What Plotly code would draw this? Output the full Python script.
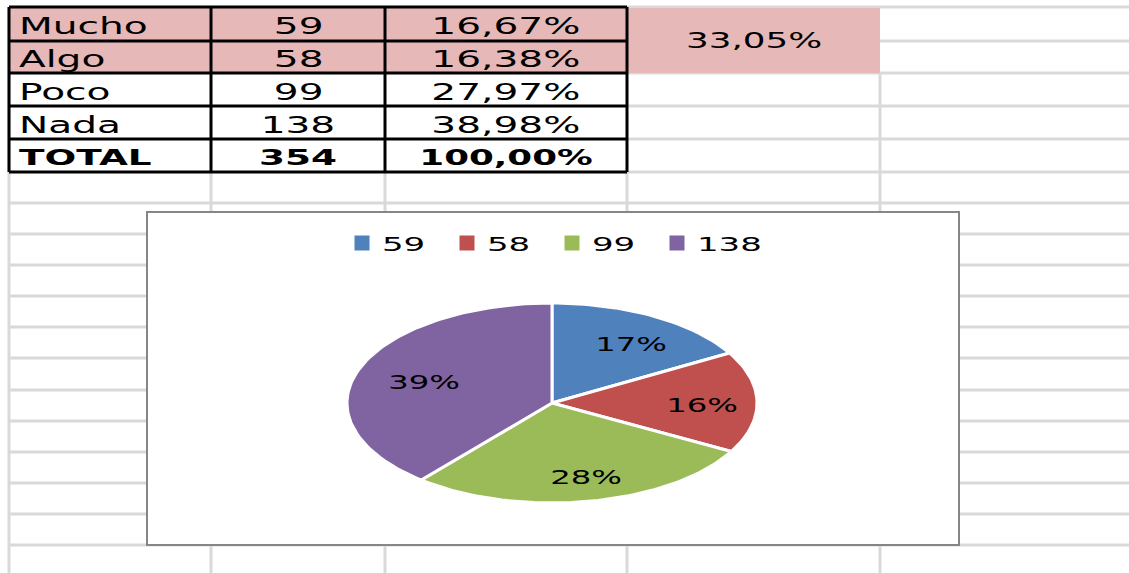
import math
import json
import plotly.graph_objects as go

# ---- data ----
categories = ["Mucho", "Algo", "Poco", "Nada"]
counts = [59, 58, 99, 138]
total_label = "TOTAL"
total_pct_label = "100,00%"
highlight_rows = 2  # Mucho + Algo summed in merged cell
slice_colors = ["#4F81BD", "#C0504D", "#9BBB59", "#8064A2"]

total = sum(counts)
def fmt_pct(v):
    return f"{v:.2f}".replace(".", ",") + "%"
pct_labels = [fmt_pct(c / total * 100) for c in counts]
combined_label = fmt_pct(sum(counts[:highlight_rows]) / total * 100)
pie_labels = [f"{round(c / total * 100)}%" for c in counts]

# ---- layout geometry (screen pixels) ----
W, H = 1129, 573
col_x = [9, 211, 385, 627, 880]
row_y = [7, 41, 73, 106, 139, 172]
grid_y_below = [203, 234, 265, 296, 327, 358, 390, 421, 452, 483, 514, 545]
chart_box = (147, 212, 959, 545)
cx, cy, rx, ry = 552, 403, 205, 100
GRID = "#D9D9D9"
PINK = "#E6B8B7"
FONT = "DejaVu Sans"
STRETCH = 1.7

fig = go.Figure()
shapes = []

def line(x0, y0, x1, y1, color, width):
    shapes.append(dict(type="line", xref="x", yref="y", x0=x0, y0=y0, x1=x1, y1=y1,
                       line=dict(color=color, width=width), layer="below"))

# spreadsheet gridlines
for y in row_y:
    line(col_x[3], y, W + 20, y, GRID, 3)
for y in grid_y_below:
    line(col_x[0], y, W + 20, y, GRID, 3)
line(col_x[0], row_y[0], col_x[0], H + 20, GRID, 3)
for x in col_x[1:4]:
    line(x, row_y[-1], x, H + 20, GRID, 3)
line(col_x[4], row_y[2], col_x[4], H + 20, GRID, 3)

# pink highlight cells
shapes.append(dict(type="rect", xref="x", yref="y", x0=col_x[0], x1=col_x[3],
                   y0=row_y[0], y1=row_y[highlight_rows], fillcolor=PINK,
                   line=dict(width=0), layer="below"))
shapes.append(dict(type="rect", xref="x", yref="y", x0=col_x[3], x1=col_x[4],
                   y0=row_y[0] + 1, y1=row_y[highlight_rows], fillcolor=PINK,
                   line=dict(width=0), layer="below"))

# table borders
for y in row_y:
    line(col_x[0], y, col_x[3], y, "#000000", 3)
for x in col_x[:4]:
    line(x, row_y[0], x, row_y[-1], "#000000", 3)

# chart box
shapes.append(dict(type="rect", xref="x", yref="y", x0=chart_box[0], y0=chart_box[1],
                   x1=chart_box[2], y1=chart_box[3], fillcolor="white",
                   line=dict(color="#868686", width=2), layer="below"))

# table text
annotations = []
def txt(x, y, s, anchor="center", bold=False, size=23):
    annotations.append(dict(x=x, y=y, xref="x", yref="y", text=f"<b>{s}</b>" if bold else s,
                            showarrow=False, xanchor=anchor, yanchor="middle",
                            font=dict(family=FONT, size=size, color="#000000")))

rows = list(zip(categories, [str(c) for c in counts], pct_labels))
rows.append((total_label, str(total), total_pct_label))
for i, (lab, cnt, pct) in enumerate(rows):
    yc = (row_y[i] + row_y[i + 1]) / 2 + 2
    bold = i == len(rows) - 1
    txt(col_x[0] + 8, yc, lab, anchor="left", bold=bold, size=22 if bold else 23)
    txt((col_x[1] + col_x[2]) / 2, yc, cnt, bold=bold, size=22 if bold else 23)
    txt((col_x[2] + col_x[3]) / 2, yc, pct, bold=bold, size=21 if bold else 23)
txt((col_x[3] + col_x[4]) / 2, (row_y[0] + row_y[highlight_rows]) / 2 + 1, combined_label, size=21)

# pie wedges (elliptical, clockwise from top)
start = 0.0
for c, col, lab in zip(counts, slice_colors, pie_labels):
    a0 = start
    a1 = start + c / total * 2 * math.pi
    n = max(8, int((a1 - a0) / (2 * math.pi) * 240))
    xs, ys = [cx], [cy]
    for k in range(n + 1):
        a = a0 + (a1 - a0) * k / n
        xs.append(cx + rx * math.sin(a))
        ys.append(cy - ry * math.cos(a))
    xs.append(cx); ys.append(cy)
    fig.add_trace(go.Scatter(x=xs, y=ys, mode="lines", fill="toself", fillcolor=col,
                             line=dict(color="white", width=3), showlegend=False,
                             hoverinfo="skip"))
    am = (a0 + a1) / 2
    annotations.append(dict(x=cx + 7 + 0.7 * rx * math.sin(am), y=cy + 3 - 0.72 * ry * math.cos(am),
                            xref="x", yref="y", text=lab, showarrow=False,
                            font=dict(family=FONT, size=19, color="#000000")))
    start = a1

# legend entries
for c, col in zip(counts, slice_colors):
    fig.add_trace(go.Scatter(x=[None], y=[None], mode="markers", name=str(c),
                             marker=dict(symbol="square", size=15, color=col)))

fig.update_layout(
    width=W, height=H, margin=dict(l=0, r=0, t=0, b=0),
    paper_bgcolor="white", plot_bgcolor="white",
    xaxis=dict(range=[0, W], visible=False, fixedrange=True),
    yaxis=dict(range=[H, 0], visible=False, fixedrange=True),
    shapes=shapes, annotations=annotations,
    legend=dict(orientation="h", x=cx / W, xanchor="center",
                y=1 - 243 / H, yanchor="middle",
                font=dict(family=FONT, size=20, color="#000000"), bgcolor="rgba(0,0,0,0)",
                entrywidth=60, itemwidth=30),
)

left_labels = json.dumps(categories + [total_label])
post = """
document.body.style.margin = '0';
document.body.style.overflow = 'hidden';
var st = document.createElement('style');
st.textContent = '.annotation-text, .legendtext { transform-box: fill-box; transform-origin: center; transform: scaleX(%s); } .legendtext { transform-origin: left center; }';
document.head.appendChild(st);
var lefts = %s;
document.querySelectorAll('.annotation-text').forEach(function(t){
  if (lefts.indexOf(t.textContent) >= 0) { t.style.transformOrigin = 'left center'; }
});
""" % (STRETCH, left_labels)

fig.write_html("out.html", post_script=post, config={"displayModeBar": False})
